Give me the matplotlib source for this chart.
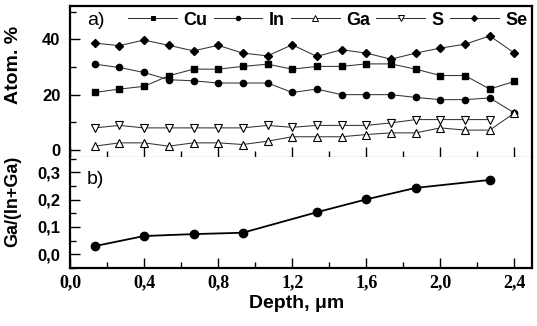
import matplotlib
matplotlib.use("Agg")
import matplotlib.pyplot as plt
from matplotlib.lines import Line2D
from matplotlib.ticker import MultipleLocator, FixedLocator

depth = [0.133, 0.267, 0.400, 0.533, 0.667, 0.800, 0.933, 1.067, 1.200,
         1.333, 1.467, 1.600, 1.733, 1.867, 2.000, 2.133, 2.267, 2.400]
cu = [20.8, 22.0, 23.0, 26.8, 29.2, 29.2, 30.2, 31.0, 29.2,
      30.2, 30.2, 31.1, 31.1, 29.2, 26.9, 26.9, 22.0, 24.8]
indium = [31.0, 29.8, 28.0, 25.4, 25.0, 24.2, 24.2, 24.2, 20.8,
          22.0, 20.0, 20.0, 20.0, 19.0, 18.2, 18.2, 18.8, 13.4]
ga = [1.4, 2.6, 2.6, 1.4, 2.6, 2.6, 2.0, 3.2, 4.8,
      4.8, 4.8, 5.6, 6.2, 6.2, 8.0, 7.2, 7.2, 13.4]
depth_s = [0.133, 0.267, 0.400, 0.533, 0.667, 0.800, 0.933, 1.067, 1.200,
           1.333, 1.467, 1.600, 1.733, 1.867, 2.000, 2.133, 2.267]
s = [8.0, 8.9, 8.0, 8.0, 8.0, 8.0, 8.0, 8.9, 8.2,
     8.9, 8.9, 8.9, 9.8, 11.0, 11.0, 11.0, 11.0]
se = [38.6, 37.7, 39.7, 37.8, 35.8, 37.8, 35.0, 34.0, 38.0,
      33.8, 36.2, 35.0, 32.8, 35.0, 36.8, 38.2, 41.2, 35.0]

depth_b = [0.133, 0.400, 0.667, 0.933, 1.333, 1.600, 1.867, 2.267]
ratio = [0.030, 0.067, 0.074, 0.079, 0.154, 0.201, 0.243, 0.272]

xticks = [0.0, 0.4, 0.8, 1.2, 1.6, 2.0, 2.4]
xticklabels = ["0,0", "0,4", "0,8", "1,2", "1,6", "2,0", "2,4"]
yticks_a = [0, 20, 40]
yticks_b = [0.0, 0.1, 0.2, 0.3]
yticklabels_b = ["0,0", "0,1", "0,2", "0,3"]

sans = "Liberation Sans"
serif = "Liberation Serif"

fig = plt.figure(figsize=(5.37, 3.26), dpi=100)
L, R = 70 / 537, 532 / 537
top, mid, bot = 1 - 6 / 326, 1 - 156.7 / 326, 1 - 268.3 / 326
ax1 = fig.add_axes([L, mid, R - L, top - mid])
ax2 = fig.add_axes([L, bot, R - L, mid - bot], sharex=ax1)

lc = "#333333"
lw = 0.75
ax1.plot(depth, cu, color=lc, lw=lw, marker="s", ms=4.3, mfc="k", mec="k", zorder=3)
ax1.plot(depth, indium, color=lc, lw=lw, marker="o", ms=4.5, mfc="k", mec="k", zorder=3)
ax1.plot(depth_s, s, color=lc, lw=lw, marker="v", ms=5.5, mfc="white", mec="k", mew=0.8, zorder=3)
ax1.plot(depth, ga, color=lc, lw=lw, marker="^", ms=5.5, mfc="white", mec="k", mew=0.8, zorder=4)
ax1.plot(depth, se, color=lc, lw=lw, marker="D", ms=4.3, mfc="k", mec="k", zorder=3)

ax2.plot(depth_b, ratio, color="k", lw=1.3, marker="o", ms=6, mfc="k", mec="k")

ax1.set_xlim(0.0, 2.495)
ax1.set_ylim(-2.4, 52)
ax2.set_ylim(-0.051, 0.357)

for ax in (ax1, ax2):
    for sp in ax.spines.values():
        sp.set_linewidth(1.6)
    ax.xaxis.set_major_locator(FixedLocator(xticks))
    ax.xaxis.set_minor_locator(MultipleLocator(0.2))
    ax.tick_params(which="major", direction="in", length=7, width=1.0, color="k")
    ax.tick_params(which="minor", direction="in", length=4, width=1.0, color="k")
    ax.tick_params(axis="y", pad=7)

ax1.spines["bottom"].set_linewidth(0.8)
ax1.spines["bottom"].set_color("#555555")
ax2.spines["top"].set_visible(False)

ax1.set_yticks(yticks_a)
ax1.yaxis.set_minor_locator(MultipleLocator(10))
ax1.tick_params(axis="x", labelbottom=False)
for t in ax1.get_yticklabels():
    t.set_fontfamily(sans); t.set_fontweight("bold"); t.set_fontsize(12)

ax2.set_yticks(yticks_b)
ax2.set_yticklabels(yticklabels_b)
ax2.yaxis.set_minor_locator(MultipleLocator(0.05))
ax2.set_xticks(xticks)
ax2.set_xticklabels(xticklabels)
ax2.tick_params(axis="x", pad=4)
for t in ax2.get_yticklabels():
    t.set_fontfamily(sans); t.set_fontweight("bold"); t.set_fontsize(12)
for t in ax2.get_xticklabels():
    t.set_fontfamily(serif); t.set_fontweight("bold"); t.set_fontsize(13)

ax1.set_ylabel("Atom. %", fontfamily=sans, fontweight="bold", fontsize=14)
ax1.yaxis.set_label_coords(-0.104, 0.61)
ax2.set_ylabel("Ga/(In+Ga)", fontfamily=sans, fontweight="bold", fontsize=13)
ax2.yaxis.set_label_coords(-0.106, 0.60)
ax2.set_xlabel("Depth, \u03bcm", fontfamily=sans, fontweight="bold", fontsize=14)
ax2.xaxis.set_label_coords(0.49, -0.24)

ax1.text(0.036, 0.905, "a)", transform=ax1.transAxes, fontfamily=sans,
         fontsize=14, va="center", ha="left")
ax2.text(0.036, 0.80, "b)", transform=ax2.transAxes, fontfamily=sans,
         fontsize=14, va="center", ha="left")

names = ["Cu", "In", "Ga", "S", "Se"]
mk = [("s", "k", 3.2), ("o", "k", 3.2), ("^", "white", 4.0), ("v", "white", 4.0), ("D", "k", 3.2)]
handles = [Line2D([0], [0], color=lc, lw=lw, marker=m, ms=ms, mfc=fc, mec="k", mew=0.7)
           for (m, fc, ms) in mk]
leg = ax1.legend(handles, names, ncol=5, loc="center right",
                 bbox_to_anchor=(1.005, 0.905), frameon=False, handlelength=2.7,
                 handletextpad=0.35, columnspacing=0.35, borderaxespad=0.0,
                 prop={"family": sans, "weight": "bold", "size": 13})

fig.savefig("out.png", dpi=100)
